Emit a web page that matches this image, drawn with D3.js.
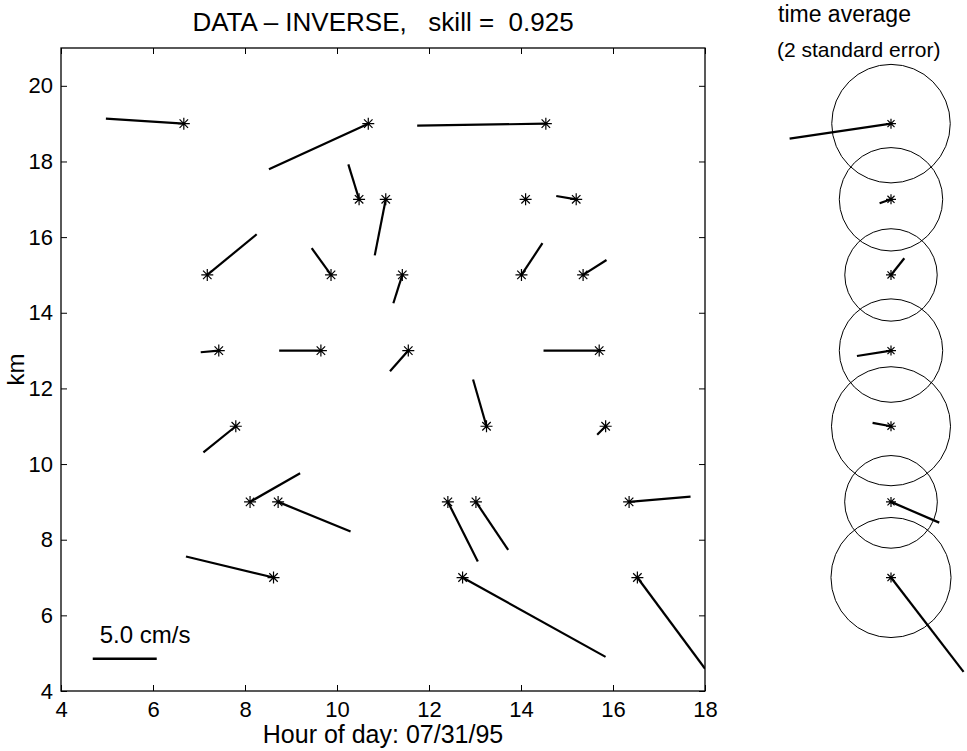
<!DOCTYPE html>
<html>
<head>
<meta charset="utf-8">
<script src="https://cdn.jsdelivr.net/npm/d3@7"></script>
<style>
  body { margin: 0; background: #fff; }
  svg { font-family: "Liberation Sans", Arial, Helvetica, sans-serif; }
  text { white-space: pre; }
</style>
</head>
<body>
<div id="chart"></div>
<script>
// observations: time (hour), depth (km), velocity components (cm/s)
var obsHour = [6.67, 10.68, 14.54, 10.48, 11.06, 14.10, 15.20, 7.18, 9.87, 11.42, 14.01, 15.35,
               7.43, 9.65, 11.55, 15.70, 7.80, 13.25, 15.84, 8.11, 8.72, 12.41, 13.02, 16.35,
               8.62, 12.73, 16.53];
var obsKm   = [19, 19, 19, 17, 17, 17, 17, 15, 15, 15, 15, 15,
               13, 13, 13, 13, 11, 11, 11, 9, 9, 9, 9, 9,
               7, 7, 7];
var obsU    = [-6.09, -7.76, -10.05, -0.84, -0.86, 0.1, -1.56, 3.86, -1.51, -0.70, 1.64, 1.83,
               -1.41, -3.26, -1.43, -4.35, -2.53, -1.05, -0.66, 3.91, 5.66, 2.34, 2.52, 4.80,
               -6.84, 11.17, 5.29];
var obsV    = [0.39, -3.57, -0.16, 2.73, -4.38, 0.05, 0.26, 3.18, 2.09, -2.21, 2.48, 1.17,
               -0.13, 0, -1.62, 0, -2.05, 3.65, -0.66, 2.24, -2.32, -4.66, -3.75, 0.41,
               1.64, -6.20, -7.13];

// time average per depth with 2 standard error radius (cm/s)
var avgKm  = [19, 17, 15, 13, 11, 9, 7];
var avgU   = [-7.92, -0.89, 1.04, -2.66, -1.44, 3.77, 5.67];
var avgV   = [-1.17, -0.31, 1.30, -0.42, 0.26, -1.62, -7.37];
var avgErr = [4.63, 4.04, 3.61, 4.04, 4.65, 3.62, 4.69];

var xTicks = [4, 6, 8, 10, 12, 14, 16, 18];
var yTicks = [4, 6, 8, 10, 12, 14, 16, 18, 20];
var refSpeed = 5.0;

var width = 967, height = 751;
var margin = {left: 61, top: 48, right: 262, bottom: 60};
var plotW = width - margin.left - margin.right,
    plotH = height - margin.top - margin.bottom;

var svg = d3.select('#chart')
  .append('svg')
    .attr('width', width)
    .attr('height', height);

var x = d3.scaleLinear().domain([4, 18]).range([0, plotW]);
var y = d3.scaleLinear().domain([4, 21]).range([plotH, 0]);
// cm/s -> pixels (same in both directions)
var vel = d3.scaleLinear().domain([0, refSpeed]).range([0, 64]);

var g = svg.append('g')
  .attr('transform', 'translate(' + margin.left + ',' + margin.top + ')');

g.append('clipPath').attr('id', 'clip')
  .append('rect').attr('width', plotW).attr('height', plotH);

// axes with inward ticks on all sides
var tickLen = 6;
g.append('g')
  .attr('transform', 'translate(0,' + plotH + ')')
  .call(d3.axisBottom(x).tickValues(xTicks).tickSizeInner(-tickLen).tickSizeOuter(0).tickPadding(10))
  .call(function(a) { a.select('.domain').remove(); });
g.append('g')
  .call(d3.axisLeft(y).tickValues(yTicks).tickSizeInner(-tickLen).tickSizeOuter(0).tickPadding(8))
  .call(function(a) { a.select('.domain').remove(); });
g.append('g')
  .call(d3.axisTop(x).tickValues(xTicks).tickSizeInner(-tickLen).tickSizeOuter(0).tickFormat(''))
  .call(function(a) { a.select('.domain').remove(); });
g.append('g')
  .attr('transform', 'translate(' + plotW + ',0)')
  .call(d3.axisRight(y).tickValues(yTicks).tickSizeInner(-tickLen).tickSizeOuter(0).tickFormat(''))
  .call(function(a) { a.select('.domain').remove(); });

g.selectAll('.tick text')
  .attr('font-size', 22)
  .attr('font-family', '"Liberation Sans", Arial, sans-serif')
  .attr('fill', '#000');
g.selectAll('.tick line').attr('stroke', '#000').attr('stroke-width', 1);

g.append('rect')
  .attr('width', plotW).attr('height', plotH)
  .attr('fill', 'none').attr('stroke', '#000').attr('stroke-width', 1.3);

// asterisk marker
function star(sel, r) {
  var p = '';
  for (var k = 0; k < 4; k++) {
    var a = k * Math.PI / 4;
    var dx = r * Math.cos(a), dy = r * Math.sin(a);
    p += 'M' + (-dx) + ',' + (-dy) + 'L' + dx + ',' + dy;
  }
  sel.append('path').attr('d', p).attr('stroke', '#000').attr('stroke-width', 1.2).attr('fill', 'none');
}

var obs = d3.range(obsHour.length).map(function(i) {
  return {t: obsHour[i], km: obsKm[i], u: obsU[i], v: obsV[i]};
});

g.append('g').attr('clip-path', 'url(#clip)')
  .selectAll('line')
  .data(obs)
  .enter()
  .append('line')
    .attr('x1', function(d) { return x(d.t); })
    .attr('y1', function(d) { return y(d.km); })
    .attr('x2', function(d) { return x(d.t) + vel(d.u); })
    .attr('y2', function(d) { return y(d.km) - vel(d.v); })
    .attr('stroke', '#000')
    .attr('stroke-width', 2.2);

g.selectAll('g.obs')
  .data(obs)
  .enter()
  .append('g')
    .attr('class', 'obs')
    .attr('transform', function(d) { return 'translate(' + x(d.t) + ',' + y(d.km) + ')'; })
    .each(function() { star(d3.select(this), 6); });

// reference vector
var refX = x(4.69), refY = y(4.85);
g.append('line')
  .attr('x1', refX).attr('y1', refY)
  .attr('x2', refX + vel(refSpeed)).attr('y2', refY)
  .attr('stroke', '#000').attr('stroke-width', 2.5);
g.append('text')
  .attr('x', refX + 7).attr('y', refY - 16)
  .attr('font-size', 24)
  .text(refSpeed.toFixed(1) + ' cm/s');

// titles
g.append('text')
  .attr('x', plotW / 2).attr('y', -17)
  .attr('text-anchor', 'middle')
  .attr('font-size', 26)
  .text('DATA \u2013 INVERSE,   skill =  0.925');
g.append('text')
  .attr('x', plotW / 2).attr('y', plotH + 52)
  .attr('text-anchor', 'middle')
  .attr('font-size', 25)
  .text('Hour of day: 07/31/95');
g.append('text')
  .attr('transform', 'translate(-37,' + plotH / 2 + ') rotate(-90)')
  .attr('text-anchor', 'middle')
  .attr('font-size', 24)
  .text('km');

// time-average panel
var panelX = 891 - margin.left;
var avg = d3.range(avgKm.length).map(function(i) {
  return {km: avgKm[i], u: avgU[i], v: avgV[i], err: avgErr[i]};
});

g.selectAll('circle.err')
  .data(avg)
  .enter()
  .append('circle')
    .attr('class', 'err')
    .attr('cx', panelX)
    .attr('cy', function(d) { return y(d.km); })
    .attr('r', function(d) { return vel(d.err); })
    .attr('fill', 'none')
    .attr('stroke', '#000')
    .attr('stroke-width', 1);

g.selectAll('line.avg')
  .data(avg)
  .enter()
  .append('line')
    .attr('class', 'avg')
    .attr('x1', panelX)
    .attr('y1', function(d) { return y(d.km); })
    .attr('x2', function(d) { return panelX + vel(d.u); })
    .attr('y2', function(d) { return y(d.km) - vel(d.v); })
    .attr('stroke', '#000')
    .attr('stroke-width', 2.2);

g.selectAll('g.avgstar')
  .data(avg)
  .enter()
  .append('g')
    .attr('class', 'avgstar')
    .attr('transform', function(d) { return 'translate(' + panelX + ',' + y(d.km) + ')'; })
    .each(function() { star(d3.select(this), 5); });

g.append('text')
  .attr('x', 778 - margin.left).attr('y', 22 - margin.top)
  .attr('font-size', 23)
  .text('time average');
g.append('text')
  .attr('x', 777 - margin.left).attr('y', 57 - margin.top)
  .attr('font-size', 21)
  .text('(2 standard error)');
</script>
</body>
</html>
